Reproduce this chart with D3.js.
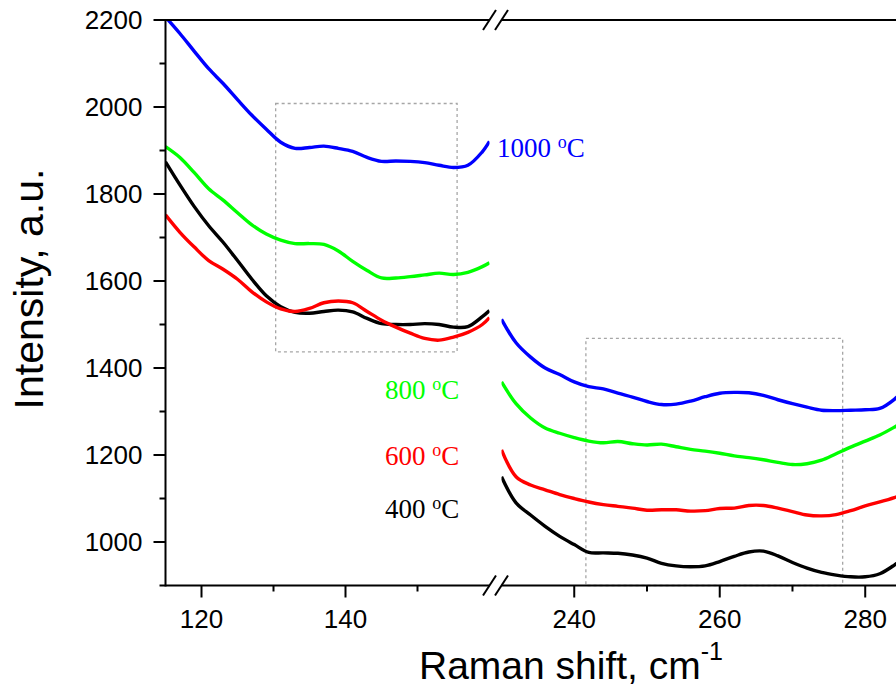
<!DOCTYPE html>
<html>
<head>
<meta charset="utf-8">
<script src="https://cdn.jsdelivr.net/npm/d3@7"></script>
<style>
  body { margin: 0; background: #fff; }
  svg { display: block; }
</style>
</head>
<body>
<div id="chart"></div>
<script>
// Raman shift values (cm-1), left and right part of the broken axis
const seg1X = [115, 117, 119, 121, 123, 125, 127, 129, 131, 133, 135, 137, 139, 141, 143, 145, 147, 149, 151, 153, 155, 157, 159, 160];
const seg2X = [230, 232, 234, 236, 238, 240, 242, 244, 246, 248, 250, 252, 254, 256, 258, 260, 262, 264, 266, 268, 270, 272, 274, 276, 278, 280, 282, 284, 285];

// intensities, left part
const blue1  = [2207, 2169, 2128, 2088, 2054, 2017, 1981, 1949, 1919, 1905, 1907, 1910, 1905, 1898, 1884, 1875, 1876, 1875, 1872, 1866, 1861, 1866, 1897, 1921];
const green1 = [1909, 1884, 1849, 1812, 1786, 1757, 1729, 1708, 1694, 1686, 1686, 1684, 1669, 1645, 1624, 1607, 1607, 1610, 1614, 1618, 1615, 1620, 1633, 1642];
const red1   = [1752, 1712, 1678, 1647, 1627, 1604, 1575, 1552, 1536, 1530, 1537, 1550, 1554, 1550, 1530, 1510, 1494, 1480, 1468, 1464, 1471, 1482, 1500, 1516];
const black1 = [1874, 1821, 1771, 1727, 1689, 1647, 1604, 1566, 1541, 1528, 1526, 1530, 1533, 1529, 1514, 1502, 1500, 1500, 1502, 1500, 1494, 1495, 1518, 1532];

// intensities, right part
const blue2  = [1512, 1458, 1425, 1400, 1385, 1368, 1357, 1352, 1342, 1333, 1323, 1316, 1317, 1324, 1334, 1342, 1344, 1343, 1337, 1327, 1318, 1310, 1303, 1302, 1303, 1304, 1307, 1328, 1345];
const green2 = [1368, 1318, 1285, 1262, 1250, 1240, 1232, 1228, 1231, 1226, 1223, 1225, 1219, 1213, 1209, 1204, 1198, 1194, 1189, 1183, 1178, 1180, 1188, 1203, 1218, 1232, 1246, 1264, 1274];
const red2   = [1212, 1150, 1131, 1120, 1109, 1100, 1092, 1086, 1082, 1078, 1073, 1074, 1074, 1071, 1072, 1077, 1078, 1084, 1084, 1078, 1070, 1062, 1060, 1063, 1072, 1083, 1092, 1102, 1108];
const black2 = [1150, 1090, 1062, 1036, 1013, 994, 976, 975, 974, 970, 963, 951, 945, 943, 945, 955, 967, 977, 979, 968, 953, 940, 930, 924, 920, 920, 927, 947, 960];

const seriesNames = ["1000", "800", "600", "400"];
const yMajorTicks = [1000, 1200, 1400, 1600, 1800, 2000, 2200];
const yMinorTicks = [900, 1100, 1300, 1500, 1700, 1900, 2100];
const x1Major = [120, 140];
const x1Minor = [130, 150];
const x2Major = [240, 260, 280];
const x2Minor = [250, 270];

// dashed boxes [x0, x1, y0, y1] in data units
const box1 = [130.3, 155.5, 1437, 2008];
const box2 = [241.6, 276.9, 900, 1468];

const width = 896, height = 687;
const plotLeft = 165.5, plotTop = 20, plotBottom = 585.5;

const svg = d3.select("#chart").append("svg")
  .attr("width", width).attr("height", height);

const y = d3.scaleLinear().domain([900, 2200]).range([plotBottom, plotTop]);
const x1 = d3.scaleLinear().domain([115, 160]).range([plotLeft, 489.5]);
const x2 = d3.scaleLinear().domain([230, 285]).range([501.5, 901.6]);

const colors = { "1000": "#0000ff", "800": "#00ff00", "600": "#ff0000", "400": "#000000" };
const part1 = { "1000": blue1, "800": green1, "600": red1, "400": black1 };
const part2 = { "1000": blue2, "800": green2, "600": red2, "400": black2 };

// clip each part of the plot
const defs = svg.append("defs");
defs.append("clipPath").attr("id", "c1").append("rect")
  .attr("x", x1.range()[0]).attr("y", plotTop).attr("width", x1.range()[1] - x1.range()[0]).attr("height", plotBottom - plotTop);
defs.append("clipPath").attr("id", "c2").append("rect")
  .attr("x", x2.range()[0]).attr("y", plotTop).attr("width", width - x2.range()[0]).attr("height", plotBottom - plotTop);

// dashed boxes
[[box1, x1], [box2, x2]].forEach(([b, xs]) => {
  svg.append("rect")
    .attr("x", xs(b[0])).attr("y", y(b[3]))
    .attr("width", xs(b[1]) - xs(b[0])).attr("height", y(b[2]) - y(b[3]))
    .attr("fill", "none").attr("stroke", "#a6a6a6")
    .attr("stroke-width", 1.3).attr("stroke-dasharray", "3,3");
});

// lines
function drawPart(xs, xv, values, clip) {
  const line = d3.line()
    .x((d, i) => xs(xv[i]))
    .y(d => y(d))
    .curve(d3.curveCatmullRom);
  svg.append("g").attr("clip-path", "url(#" + clip + ")")
    .selectAll("path")
    .data(seriesNames.slice().reverse())
    .enter().append("path")
    .attr("d", n => line(values[n]))
    .attr("fill", "none")
    .attr("stroke", n => colors[n])
    .attr("stroke-width", 3.4)
    .attr("stroke-linejoin", "round");
}
drawPart(x1, seg1X, part1, "c1");
drawPart(x2, seg2X, part2, "c2");

// axes
const axisColor = "#000";
const brk1 = x1.range()[1], brk2 = x2.range()[0];
[plotTop, plotBottom].forEach(yy => {
  svg.append("line").attr("x1", plotLeft).attr("x2", brk1).attr("y1", yy).attr("y2", yy)
    .attr("stroke", axisColor).attr("stroke-width", 2);
  svg.append("line").attr("x1", brk2).attr("x2", width).attr("y1", yy).attr("y2", yy)
    .attr("stroke", axisColor).attr("stroke-width", 2);
  [brk1, brk2].forEach(bx => {
    svg.append("line")
      .attr("x1", bx - 6.5).attr("y1", yy + 10).attr("x2", bx + 6.5).attr("y2", yy - 10)
      .attr("stroke", axisColor).attr("stroke-width", 2);
  });
});

const yAxis = svg.append("g").attr("transform", "translate(" + plotLeft + ",0)");
yAxis.append("line").attr("y1", plotTop - 1).attr("y2", plotBottom + 1)
  .attr("stroke", axisColor).attr("stroke-width", 2);
yAxis.selectAll(".maj").data(yMajorTicks).enter().append("line")
  .attr("x1", -12).attr("x2", 0).attr("y1", d => y(d)).attr("y2", d => y(d))
  .attr("stroke", axisColor).attr("stroke-width", 2);
yAxis.selectAll(".min").data(yMinorTicks).enter().append("line")
  .attr("x1", -6).attr("x2", 0).attr("y1", d => y(d)).attr("y2", d => y(d))
  .attr("stroke", axisColor).attr("stroke-width", 2);
yAxis.selectAll("text").data(yMajorTicks).enter().append("text")
  .attr("x", -23).attr("y", d => y(d)).attr("dy", "0.36em")
  .attr("text-anchor", "end")
  .style("font-family", "'Liberation Sans', Arial, sans-serif")
  .style("font-size", "26px")
  .text(d => d);

function xTicks(xs, major, minor) {
  const g = svg.append("g").attr("transform", "translate(0," + plotBottom + ")");
  g.selectAll(".maj").data(major).enter().append("line")
    .attr("x1", d => xs(d)).attr("x2", d => xs(d)).attr("y1", 0).attr("y2", 12)
    .attr("stroke", axisColor).attr("stroke-width", 2);
  g.selectAll(".min").data(minor).enter().append("line")
    .attr("x1", d => xs(d)).attr("x2", d => xs(d)).attr("y1", 0).attr("y2", 6)
    .attr("stroke", axisColor).attr("stroke-width", 2);
  g.selectAll("text").data(major).enter().append("text")
    .attr("x", d => xs(d)).attr("y", 42)
    .attr("text-anchor", "middle")
    .style("font-family", "'Liberation Sans', Arial, sans-serif")
    .style("font-size", "26px")
    .text(d => d);
}
xTicks(x1, x1Major, x1Minor);
xTicks(x2, x2Major, x2Minor);

// axis titles
const xt = svg.append("text").attr("x", 419).attr("y", 679)
  .style("font-family", "'Liberation Sans', Arial, sans-serif")
  .style("font-size", "39px");
xt.append("tspan").text("Raman shift, cm");
xt.append("tspan").attr("dy", -19).style("font-size", "25px").text("-1");

svg.append("text")
  .attr("transform", "translate(43,289) rotate(-90)")
  .attr("text-anchor", "middle")
  .style("font-family", "'Liberation Sans', Arial, sans-serif")
  .style("font-size", "41px")
  .text("Intensity, a.u.");

// series labels
const labelPos = { "1000": [497, 157], "800": [385, 399], "600": [385, 465], "400": [385, 518] };
seriesNames.forEach(n => {
  const t = svg.append("text")
    .attr("x", labelPos[n][0]).attr("y", labelPos[n][1])
    .attr("fill", colors[n])
    .style("font-family", "'Liberation Serif', 'Times New Roman', serif")
    .style("font-size", "27px");
  t.append("tspan").text(n + " ");
  t.append("tspan").attr("dy", -9).style("font-size", "18px").text("o");
  t.append("tspan").attr("dy", 9).text("C");
});
</script>
</body>
</html>
